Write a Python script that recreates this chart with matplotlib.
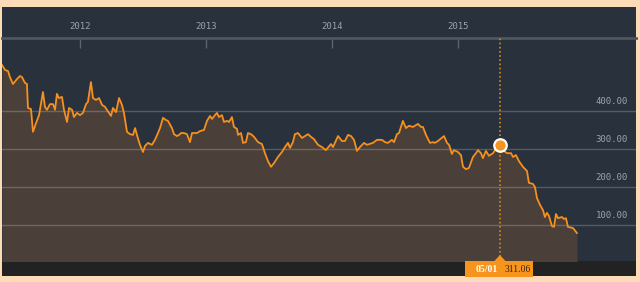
import matplotlib
matplotlib.use("Agg")
import matplotlib.pyplot as plt
from matplotlib.patches import Rectangle, Polygon
from matplotlib.transforms import blended_transform_factory

# dates as decimal years, prices
dates = [
    2011.381, 2011.405, 2011.429, 2011.444, 2011.468, 2011.500, 2011.524, 2011.540,
    2011.563, 2011.579, 2011.587, 2011.611, 2011.627, 2011.651, 2011.675, 2011.706,
    2011.722, 2011.738, 2011.762, 2011.786, 2011.802, 2011.817, 2011.833, 2011.857,
    2011.873, 2011.897, 2011.913, 2011.937, 2011.952, 2011.976, 2012.000, 2012.024,
    2012.048, 2012.063, 2012.087, 2012.103, 2012.127, 2012.151, 2012.175, 2012.198,
    2012.214, 2012.246, 2012.262, 2012.286, 2012.310, 2012.333, 2012.349, 2012.373,
    2012.397, 2012.421, 2012.437, 2012.452, 2012.476, 2012.500,
    2012.516, 2012.540, 2012.571, 2012.595, 2012.619, 2012.635, 2012.659, 2012.683,
    2012.698, 2012.730, 2012.746, 2012.770, 2012.786, 2012.802, 2012.825, 2012.849,
    2012.873, 2012.889, 2012.929, 2012.952, 2012.984, 2013.008, 2013.032, 2013.048,
    2013.071, 2013.087, 2013.103, 2013.127, 2013.143, 2013.167, 2013.183, 2013.206,
    2013.222, 2013.246, 2013.254, 2013.278, 2013.294, 2013.317, 2013.333, 2013.357,
    2013.381, 2013.413, 2013.444, 2013.468, 2013.492, 2013.516, 2013.540, 2013.571,
    2013.603, 2013.627, 2013.651,
    2013.667, 2013.690, 2013.706, 2013.730, 2013.762, 2013.786, 2013.810, 2013.833,
    2013.857, 2013.889, 2013.921, 2013.952, 2013.992, 2014.008, 2014.048, 2014.079,
    2014.103, 2014.127, 2014.151, 2014.175, 2014.198, 2014.222, 2014.254, 2014.278,
    2014.325, 2014.357, 2014.397, 2014.421, 2014.444, 2014.476, 2014.492, 2014.516,
    2014.532, 2014.563, 2014.587, 2014.611, 2014.643, 2014.683, 2014.706, 2014.722,
    2014.746,
    2014.778, 2014.802, 2014.817, 2014.841, 2014.889, 2014.913, 2014.929, 2014.952,
    2014.968, 2015.000, 2015.024, 2015.040, 2015.063, 2015.087, 2015.119, 2015.143,
    2015.159, 2015.183, 2015.198, 2015.222, 2015.246, 2015.278, 2015.302, 2015.333,
    2015.365, 2015.389, 2015.421, 2015.437, 2015.460, 2015.484, 2015.516, 2015.548,
    2015.563, 2015.595, 2015.611, 2015.627, 2015.651, 2015.675, 2015.690, 2015.706,
    2015.722, 2015.746, 2015.762, 2015.778, 2015.794, 2015.825, 2015.841, 2015.857,
    2015.873, 2015.913, 2015.944,
]
prices = [
    521, 508, 505, 489, 471, 484, 492, 489,
    474, 471, 408, 405, 345, 368, 389, 450,
    411, 403, 418, 418, 403, 445, 434, 437,
    403, 371, 408, 403, 384, 395, 389, 395,
    418, 424, 476, 434, 429, 434, 416, 411,
    403, 387, 408, 397, 434, 416, 395, 345,
    339, 337, 355, 337, 311, 292,
    308, 316, 311, 324, 342, 355, 382, 376,
    374, 355, 339, 334, 337, 342, 342, 339,
    318, 342, 342, 347, 350, 374, 387, 379,
    389, 395, 384, 389, 371, 374, 371, 384,
    358, 353, 337, 342, 316, 318, 342, 339,
    332, 318, 313, 289, 268, 253, 263, 279,
    292, 305, 316,
    303, 318, 339, 342, 329, 334, 339, 332,
    326, 311, 305, 297, 313, 305, 334, 321,
    321, 337, 334, 324, 295, 305, 316, 311,
    316, 324, 324, 318, 316, 324, 318, 339,
    342, 374, 355, 361, 358, 366, 358, 358,
    337,
    316, 318, 316, 321, 334, 316, 311, 287,
    297, 292, 284, 253, 247, 250, 279, 289,
    297, 289, 276, 295, 282, 289, 300, 311.06,
    295, 289, 289, 279, 284, 268, 253, 242,
    211, 208, 200, 171, 153, 139, 121, 132,
    124, 97, 95, 129, 118, 121, 116, 118,
    95, 92, 79,
]
year_ticks = [2012, 2013, 2014, 2015]
y_ticks = [100, 200, 300, 400]
sel_date = 2015.333
sel_price = 311.06
sel_label = "05/01"

W, H = 640, 282
fig = plt.figure(figsize=(W / 100, H / 100), dpi=100, facecolor="#fcdcb6")


def box(l, t, r, b):
    # pixel box (top-left origin) -> figure fraction rect
    return [l / W, 1 - b / H, (r - l) / W, (b - t) / H]


# dark panel and bottom strip
l, b_, w, h = box(2, 7, 636, 276)
fig.add_artist(Rectangle((l, b_), w, h, transform=fig.transFigure,
                         fc="#29313d", ec="none", zorder=0))
l, b_, w, h = box(2, 261, 636, 276)
fig.add_artist(Rectangle((l, b_), w, h, transform=fig.transFigure,
                         fc="#222222", ec="none", zorder=0))

ax = fig.add_axes(box(2, 38, 636, 261))
ax.set_facecolor("none")
ax.set_xlim(2011.381, 2016.413)
ax.set_ylim(5.3, 592)

ax.fill_between(dates, prices, 0, color="#4a4039", lw=0, zorder=1)
for v in y_ticks:
    ax.axhline(v, color="white", alpha=0.2, lw=1, zorder=2)
ax.plot(dates, prices, color="#f6901e", lw=1.3, zorder=3, solid_joinstyle="round")

trans = blended_transform_factory(ax.transAxes, ax.transData)
for v in y_ticks:
    ax.annotate("%.2f" % v, xy=(0.987, v), xycoords=trans, xytext=(0, 7),
                textcoords="offset points", ha="right", va="center",
                fontsize=6.5, family="DejaVu Sans Mono", color="#9ea3aa", zorder=4)

ax.set_xticks(year_ticks)
ax.set_xticklabels([str(y) for y in year_ticks], family="DejaVu Sans Mono")
ax.xaxis.tick_top()
ax.tick_params(axis="x", direction="in", length=7.5, width=1, color="#5e646c",
               pad=5, labelsize=6.5, labelcolor="#9ea3aa")
ax.set_yticks([])
for side in ["left", "right", "bottom"]:
    ax.spines[side].set_visible(False)
ax.spines["top"].set_color("#50565e")
ax.spines["top"].set_linewidth(2)

ax.axvline(sel_date, color="#d4891a", lw=1.2, ls=(0, (1, 1.5)), zorder=4)
ax.plot(sel_date, sel_price, "o", ms=9, mfc="#f7941d", mec="white", mew=1.6,
        zorder=5, clip_on=False)

# tooltip at the bottom, positioned from the selected point
px = ax.transData.transform((sel_date, sel_price))[0]
ov = fig.add_axes([0, 0, 1, 1])
ov.set_xlim(0, W)
ov.set_ylim(H, 0)
ov.axis("off")
ov.add_patch(Rectangle((px - 35, 261), 68, 16, fc="#f7941d", ec="none"))
ov.add_patch(Polygon([(px - 6, 261.5), (px + 6, 261.5), (px, 255)],
                     closed=True, fc="#f7941d", ec="none"))
ov.text(px - 13, 269.5, sel_label, ha="center", va="center", fontsize=7,
        family="Liberation Serif", weight="bold", color="white")
ov.text(px + 18, 269.5, "%.2f" % sel_price, ha="center", va="center", fontsize=7,
        family="Liberation Serif", color="#3d2608")

fig.savefig("out.png", dpi=100, facecolor=fig.get_facecolor())
